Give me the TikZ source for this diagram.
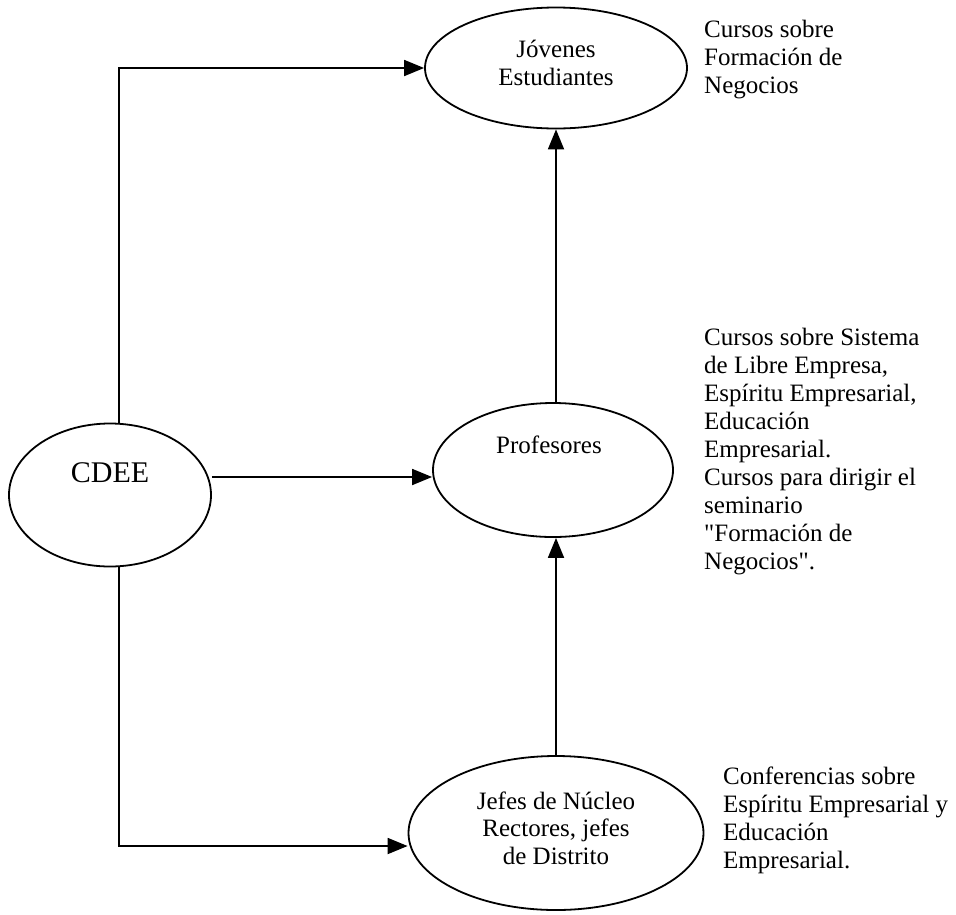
\documentclass[tikz,border=0pt]{standalone}
\usepackage{fontspec}
\setmainfont{Liberation Serif}
% same face without the TeX input mapping, so " stays a straight quote
\newfontfamily\plainserif{Liberation Serif}[Ligatures=TeXOff]
\usetikzlibrary{shapes.geometric,arrows.meta}
\newcommand{\dq}{{\plainserif\symbol{34}}}
\begin{document}
\begin{tikzpicture}[x=1pt,y=-1pt,
  bubble/.style={draw,ellipse,line width=1.8pt,inner sep=0pt},
  label text/.style={inner sep=0pt,align=center,anchor=base,
    font=\fontsize{25}{27.5}\selectfont},
  note/.style={inner sep=0pt,align=left,anchor=base west,
    font=\fontsize{25}{28}\selectfont},
  arr/.style={line width=1.8pt,-{Triangle[length=20pt,width=16pt]}}]
\useasboundingbox (0,0) rectangle (956,914);

% actors
\node[bubble,minimum width=262pt,minimum height=121pt] (jov) at (556,68) {};
\node[bubble,minimum width=240pt,minimum height=134pt] (prof) at (553,470) {};
\node[bubble,minimum width=202pt,minimum height=143pt] (cdee) at (110,495) {};
\node[bubble,minimum width=295pt,minimum height=154pt] (jef) at (556,833) {};

\node[label text] (jovt) at (556,85) {Jóvenes\\Estudiantes};
\node[label text] (proft) at (549,453) {Profesores};
\node[label text,font=\fontsize{30}{34}\selectfont] (cdeet) at (110,482) {CDEE};
\node[label text] (jeft) at (556,864) {Jefes de Núcleo\\Rectores,\ jefes\\de Distrito};

% course descriptions
\node[note] (n1) at (704,93) {Cursos sobre\\Formación de\\Negocios};
\node[note] (n2) at (704,569) {Cursos sobre Sistema\\de Libre Empresa,\\Espíritu Empresarial,\\Educación\\Empresarial.\\Cursos para dirigir el\\seminario\\\dq Formación de\\Negocios\dq.};
\node[note] (n3) at (723,868) {Conferencias sobre\\Espíritu Empresarial y\\Educación\\Empresarial.};

% connectors
\coordinate (rail) at (119,0);
\coordinate (spine) at (556,0);
\coordinate (midrow) at (0,477);
\coordinate (lowrow) at (0,846);
\draw[arr] (cdee.north -| rail) |- (jov.west);
\draw[arr] (midrow -| cdee.east) -- (midrow -| prof.west);
\draw[arr] (cdee.south -| rail) |- (lowrow -| jef.west);
\draw[arr] (prof.north -| spine) -- (jov.south -| spine);
\draw[arr] (jef.north -| spine) -- (prof.south -| spine);
\end{tikzpicture}
\end{document}
